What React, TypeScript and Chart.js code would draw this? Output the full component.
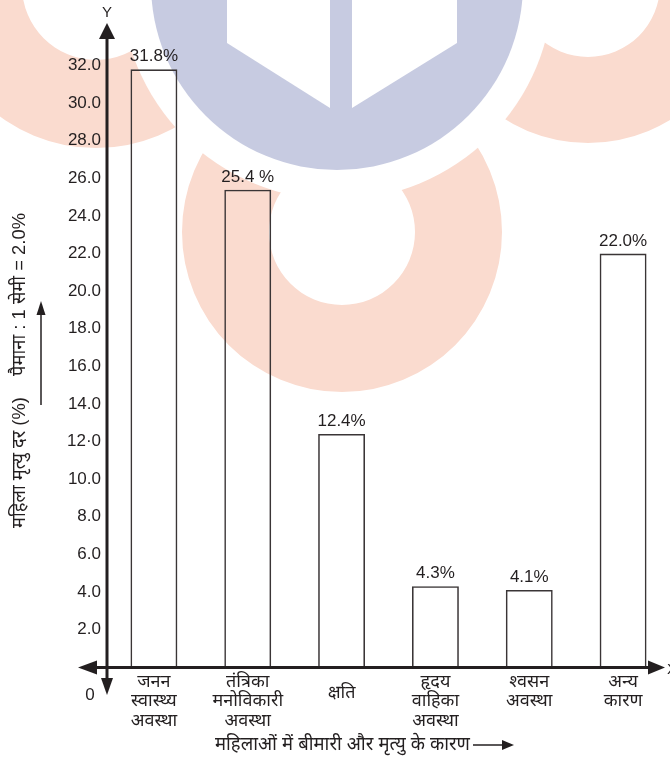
import React, { useEffect, useRef } from "react";
import { Chart, registerables } from "chart.js";

Chart.register(...registerables);

// Causes of female mortality (multi-line category labels)
const categories: string[][] = [
  ["जनन", "स्वास्थ्य", "अवस्था"],
  ["तंत्रिका", "मनोविकारी", "अवस्था"],
  ["क्षति"],
  ["हृदय", "वाहिका", "अवस्था"],
  ["श्वसन", "अवस्था"],
  ["अन्य", "कारण"],
];

// Female mortality rate (%) per cause
const deathRates: number[] = [31.8, 25.4, 12.4, 4.3, 4.1, 22.0];
const percentSuffix: string[] = ["%", " %", "%", "%", "%", "%"];

// Y axis ticks
const yTickValues: number[] = [2, 4, 6, 8, 10, 12, 14, 16, 18, 20, 22, 24, 26, 28, 30, 32];
const yTickLabels: string[] = [
  "2.0", "4.0", "6.0", "8.0", "10.0", "12·0", "14.0", "16.0",
  "18.0", "20.0", "22.0", "24.0", "26.0", "28.0", "30.0", "32.0",
];

const yTitleMain = "महिला मृत्यु दर (%)";
const yTitleScale = "पैमाना : 1 सेमी = 2.0%";
const xTitle = "महिलाओं में बीमारी और मृत्यु के कारण";

const INK = "#231f20";
const FAMILY =
  '"Liberation Sans", Arial, "Noto Sans", "Noto Sans Devanagari", "Lohit Devanagari", FreeSans, sans-serif';

// Faint logo behind the plot
const watermark = {
  id: "watermark",
  beforeDraw(chart: any) {
    const { ctx } = chart;
    ctx.save();
    const salmon = "#fadbcf";
    const ring = (cx: number, cy: number, ro: number, ri: number) => {
      ctx.beginPath();
      ctx.arc(cx, cy, ro, 0, Math.PI * 2);
      ctx.moveTo(cx + ri, cy);
      ctx.arc(cx, cy, ri, 0, Math.PI * 2, true);
      ctx.fillStyle = salmon;
      ctx.fill("evenodd");
    };
    ring(96, -14, 162, 74);
    ring(588, -15, 158, 72);
    ring(342, 232, 160, 73);

    ctx.beginPath();
    ctx.arc(337, -16, 216, 0, Math.PI * 2);
    ctx.fillStyle = "#ffffff";
    ctx.fill();

    ctx.beginPath();
    ctx.arc(337, -16, 186, 0, Math.PI * 2);
    ctx.fillStyle = "#c7cbe1";
    ctx.fill();

    ctx.fillStyle = "#ffffff";
    ctx.beginPath();
    ctx.moveTo(227, -5);
    ctx.lineTo(330, -5);
    ctx.lineTo(330, 108);
    ctx.lineTo(227, 43);
    ctx.closePath();
    ctx.fill();
    ctx.beginPath();
    ctx.moveTo(352, -5);
    ctx.lineTo(457, -5);
    ctx.lineTo(457, 43);
    ctx.lineTo(352, 108);
    ctx.closePath();
    ctx.fill();
    ctx.restore();
  },
};

// Arrowed axes, value labels and axis titles
const annotations = {
  id: "annotations",
  afterDatasetsDraw(chart: any) {
    const { ctx } = chart;
    const yScale = chart.scales.y;
    const x0 = chart.chartArea.left;
    const y0 = Math.round(yScale.getPixelForValue(0)) + 0.5;

    ctx.save();
    ctx.strokeStyle = INK;
    ctx.fillStyle = INK;
    ctx.lineWidth = 3;

    // axis lines
    ctx.beginPath();
    ctx.moveTo(x0, 34);
    ctx.lineTo(x0, 680);
    ctx.moveTo(92, y0);
    ctx.lineTo(652, y0);
    ctx.stroke();

    const tri = (a: number[], b: number[], c: number[]) => {
      ctx.beginPath();
      ctx.moveTo(a[0], a[1]);
      ctx.lineTo(b[0], b[1]);
      ctx.lineTo(c[0], c[1]);
      ctx.closePath();
      ctx.fill();
    };
    tri([x0, 23], [x0 - 8, 39], [x0 + 8, 39]);
    tri([x0, 695], [x0 - 6, 678], [x0 + 6, 678]);
    tri([78, y0], [97, y0 - 7], [97, y0 + 7]);
    tri([665, y0], [648, y0 - 7], [648, y0 + 7]);

    ctx.font = `15px ${FAMILY}`;
    ctx.textAlign = "center";
    ctx.textBaseline = "middle";
    ctx.fillText("Y", x0, 13);
    ctx.textAlign = "left";
    ctx.fillText("X", 667, y0 + 2);

    ctx.font = `17px ${FAMILY}`;
    ctx.textAlign = "center";
    ctx.fillText("0", 90, 695);

    // value labels above bars
    const meta = chart.getDatasetMeta(0);
    ctx.textBaseline = "alphabetic";
    meta.data.forEach((bar: any, i: number) => {
      const text = deathRates[i].toFixed(1) + percentSuffix[i];
      ctx.fillText(text, bar.x, bar.y - 8);
    });

    // y title (rotated), sized to span its column
    ctx.font = `18px ${FAMILY}`;
    const wMain = ctx.measureText(yTitleMain).width;
    const wScale = ctx.measureText(yTitleScale).width;
    const ySize = (18 * 294) / (wMain + wScale);
    ctx.save();
    ctx.translate(20, 0);
    ctx.rotate(-Math.PI / 2);
    ctx.font = `${ySize.toFixed(2)}px ${FAMILY}`;
    ctx.textBaseline = "middle";
    ctx.textAlign = "left";
    ctx.fillText(yTitleMain, -528, 0);
    ctx.textAlign = "right";
    ctx.fillText(yTitleScale, -213, 0);
    ctx.restore();

    ctx.lineWidth = 1.5;
    ctx.beginPath();
    ctx.moveTo(41, 405);
    ctx.lineTo(41, 312);
    ctx.stroke();
    tri([41, 301], [36.5, 315], [45.5, 315]);

    // x title with arrow
    ctx.font = `18px ${FAMILY}`;
    const xSize = (18 * 255) / ctx.measureText(xTitle).width;
    ctx.font = `${xSize.toFixed(2)}px ${FAMILY}`;
    ctx.textAlign = "left";
    ctx.textBaseline = "middle";
    ctx.fillText(xTitle, 215, 745);
    const end = 215 + ctx.measureText(xTitle).width + 3;
    ctx.beginPath();
    ctx.moveTo(end, 745);
    ctx.lineTo(end + 30, 745);
    ctx.stroke();
    tri([end + 41, 745], [end + 29, 740], [end + 29, 750]);

    ctx.restore();
  },
};

export default function App() {
  const canvasRef = useRef<HTMLCanvasElement | null>(null);

  useEffect(() => {
    if (!canvasRef.current) return;
    const chart = new Chart(canvasRef.current, {
      type: "bar",
      data: {
        labels: categories,
        datasets: [
          {
            data: deathRates,
            backgroundColor: "rgba(0,0,0,0)",
            borderColor: "#3a3536",
            borderWidth: 1.6,
            barPercentage: 0.5,
            categoryPercentage: 1,
          },
        ],
      },
      options: {
        animation: false,
        responsive: true,
        maintainAspectRatio: false,
        layout: { padding: { top: 28, left: 0, right: 0, bottom: 0 } },
        plugins: {
          legend: { display: false },
          tooltip: { enabled: false },
        },
        scales: {
          x: {
            offset: true,
            grid: { display: false, drawTicks: false },
            border: { display: false },
            ticks: {
              color: INK,
              padding: 5,
              maxRotation: 0,
              autoSkip: false,
              font: (c: any) => ({
                family: FAMILY,
                size: 18,
                lineHeight: categories[c.index] && categories[c.index].length === 1 ? "42px" : "19.5px",
              }),
            },
            afterFit: (s: any) => {
              s.height = 90;
            },
          },
          y: {
            min: 0,
            max: 34,
            grid: { display: false, drawTicks: false },
            border: { display: false },
            afterBuildTicks: (s: any) => {
              s.ticks = yTickValues.map((v) => ({ value: v }));
            },
            ticks: {
              color: INK,
              padding: 6,
              font: { family: FAMILY, size: 17 },
              callback: (v: any) => {
                const i = yTickValues.indexOf(Number(v));
                return i >= 0 ? yTickLabels[i] : "";
              },
            },
            afterFit: (s: any) => {
              s.width = 107;
            },
          },
        },
      },
      plugins: [watermark, annotations],
    });
    return () => chart.destroy();
  }, []);

  return (
    <div style={{ position: "fixed", left: 0, top: 0, width: 670, height: 757, background: "#ffffff" }}>
      <canvas ref={canvasRef} />
    </div>
  );
}
